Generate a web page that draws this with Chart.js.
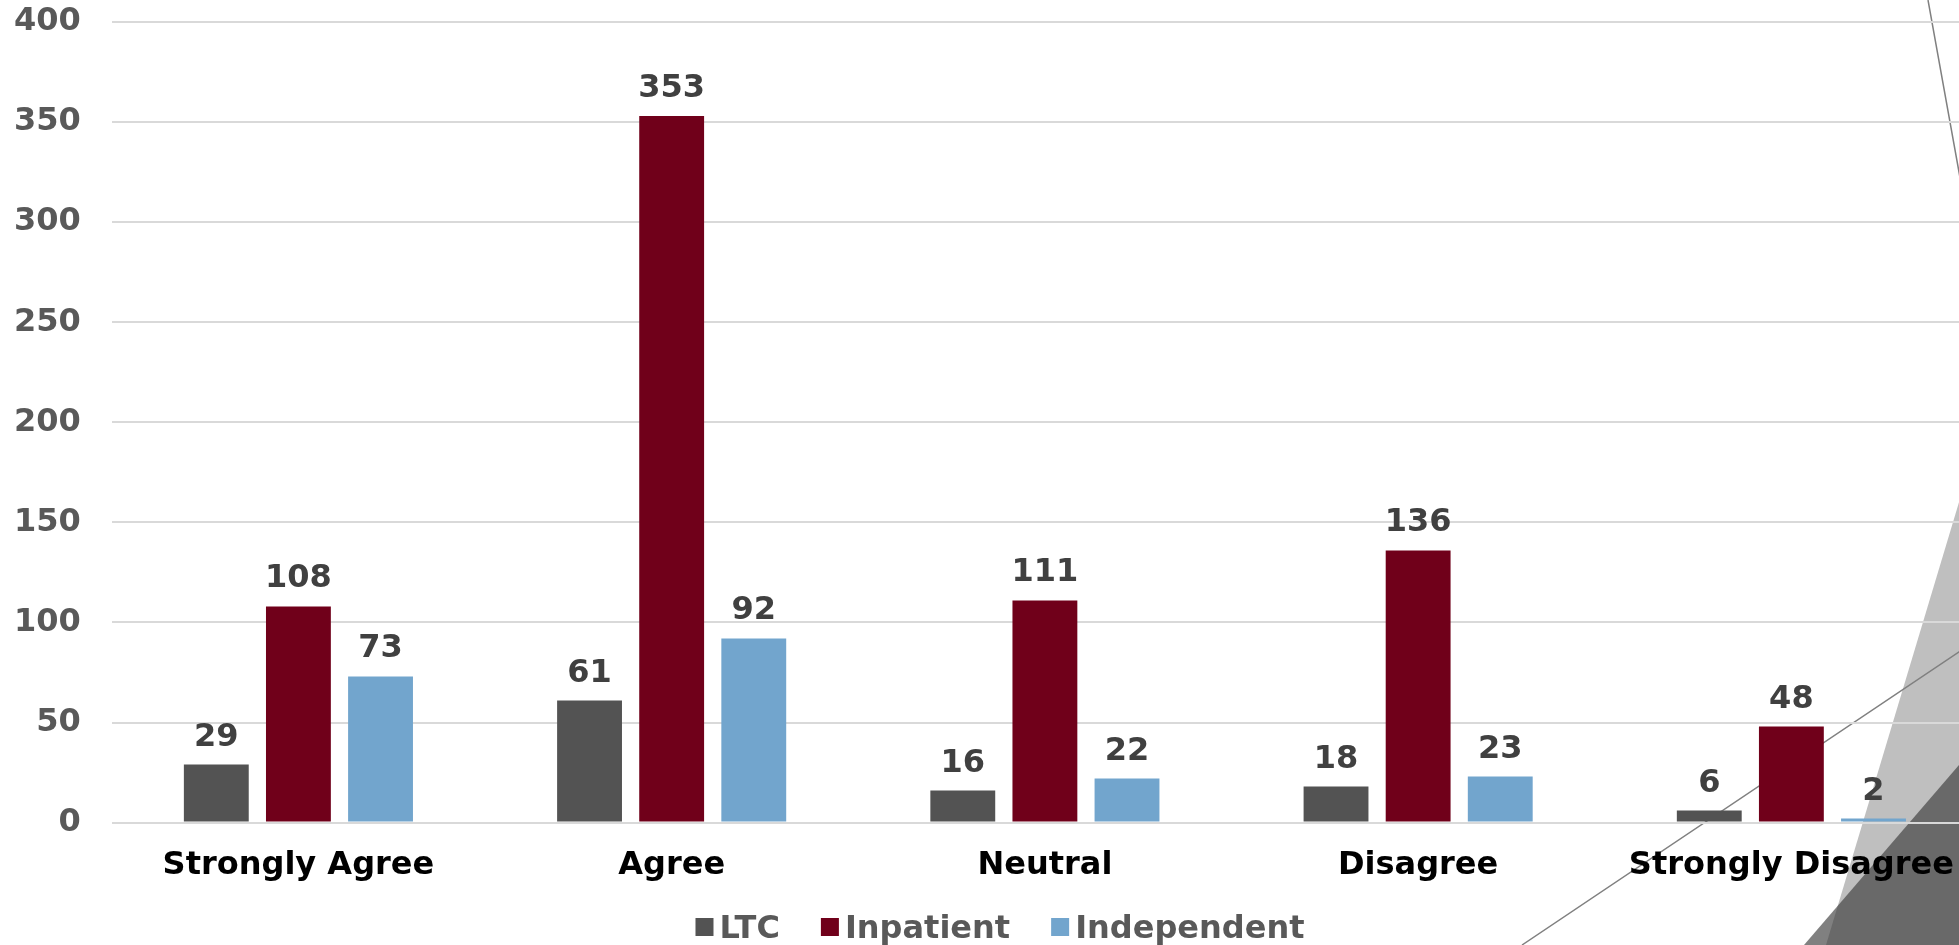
<!DOCTYPE html>
<html>
<head>
<meta charset="utf-8">
<script src="https://cdn.jsdelivr.net/npm/chart.js@4"></script>
<style>
  html, body { margin: 0; padding: 0; background: #fff; overflow: hidden; }
  body { width: 1959px; height: 945px; position: relative; }
  #wrap { position: absolute; left: 0; top: 0; width: 1990px; height: 945px; }
</style>
</head>
<body>
<div id="wrap"><canvas id="chart"></canvas></div>
<script>
// Survey responses by setting
const categories = ["Strongly Agree", "Agree", "Neutral", "Disagree", "Strongly Disagree"];
const ltc = [29, 61, 16, 18, 6];
const inpatient = [108, 353, 111, 136, 48];
const independent = [73, 92, 22, 23, 2];
const yMax = 400;
const yStep = 50;

const FONT = '"DejaVu Sans", Verdana, sans-serif';

// slide decoration in the lower right corner, drawn behind the chart
const slideShapes = {
    id: 'slideShapes',
    beforeDraw(chart) {
        const ctx = chart.ctx;
        ctx.save();
        ctx.fillStyle = '#bfbfbf';
        ctx.beginPath();
        ctx.moveTo(1990, 399);
        ctx.lineTo(1826, 945);
        ctx.lineTo(1990, 945);
        ctx.closePath();
        ctx.fill();

        ctx.fillStyle = 'rgba(57,57,57,0.64)';
        ctx.beginPath();
        ctx.moveTo(1990, 729);
        ctx.lineTo(1804, 945);
        ctx.lineTo(1990, 945);
        ctx.closePath();
        ctx.fill();

        ctx.strokeStyle = '#808080';
        ctx.lineWidth = 1.5;
        ctx.beginPath();
        ctx.moveTo(1928, 0);
        ctx.lineTo(1990, 344);
        ctx.moveTo(1522, 945);
        ctx.lineTo(1990, 631);
        ctx.stroke();
        ctx.restore();
    }
};

// value labels above each bar
const barValues = {
    id: 'barValues',
    afterDatasetsDraw(chart) {
        const ctx = chart.ctx;
        ctx.save();
        ctx.font = 'bold 32px ' + FONT;
        ctx.fillStyle = '#404040';
        ctx.textAlign = 'center';
        ctx.textBaseline = 'alphabetic';
        chart.data.datasets.forEach((ds, i) => {
            chart.getDatasetMeta(i).data.forEach((bar, j) => {
                ctx.fillText(ds.data[j], bar.x, bar.y - 19);
            });
        });
        ctx.restore();
    }
};

// compact legend row under the axis labels (square swatch tight to its text)
const legendRow = {
    id: 'legendRow',
    afterDraw(chart) {
        const ctx = chart.ctx;
        const box = 18, gap = 6, itemGap = 41, baseline = 938;
        ctx.save();
        ctx.font = 'bold 32px ' + FONT;
        ctx.textBaseline = 'alphabetic';
        ctx.textAlign = 'left';
        const items = chart.data.datasets.map(ds => ({
            text: ds.label,
            color: ds.backgroundColor,
            w: ctx.measureText(ds.label).width
        }));
        const total = items.reduce((s, it) => s + box + gap + it.w, 0) + itemGap * (items.length - 1);
        let x = chart.width / 2 + 5 - total / 2;
        items.forEach(it => {
            ctx.fillStyle = it.color;
            ctx.fillRect(x, baseline - 20, box, box);
            x += box + gap;
            ctx.fillStyle = '#595959';
            ctx.fillText(it.text, x, baseline);
            x += it.w + itemGap;
        });
        ctx.restore();
    }
};

new Chart(document.getElementById('chart'), {
    type: 'bar',
    data: {
        labels: categories,
        datasets: [
            { label: 'LTC', data: ltc, backgroundColor: '#535353' },
            { label: 'Inpatient', data: inpatient, backgroundColor: '#70001a' },
            { label: 'Independent', data: independent, backgroundColor: '#72a5cd' }
        ]
    },
    options: {
        responsive: true,
        maintainAspectRatio: false,
        animation: false,
        categoryPercentage: 0.66,
        barPercentage: 0.79,
        layout: { padding: { top: 0, left: -17, right: 12, bottom: 44 } },
        plugins: {
            tooltip: { enabled: false },
            legend: { display: false }
        },
        scales: {
            x: {
                grid: { display: false },
                border: { display: false },
                ticks: {
                    color: '#000000',
                    padding: 16,
                    maxRotation: 0,
                    autoSkip: false,
                    font: { family: FONT, weight: 'bold', size: 32 }
                }
            },
            y: {
                min: 0,
                max: yMax,
                border: { display: false },
                grid: { color: '#d9d9d9', lineWidth: 2, drawTicks: false },
                ticks: {
                    stepSize: yStep,
                    color: '#595959',
                    padding: 31,
                    font: { family: FONT, weight: 'bold', size: 32 }
                },
                afterFit(scale) {
                    scale.paddingTop = 22;
                    scale.paddingBottom = 20;
                }
            }
        }
    },
    plugins: [slideShapes, barValues, legendRow]
});
</script>
</body>
</html>
